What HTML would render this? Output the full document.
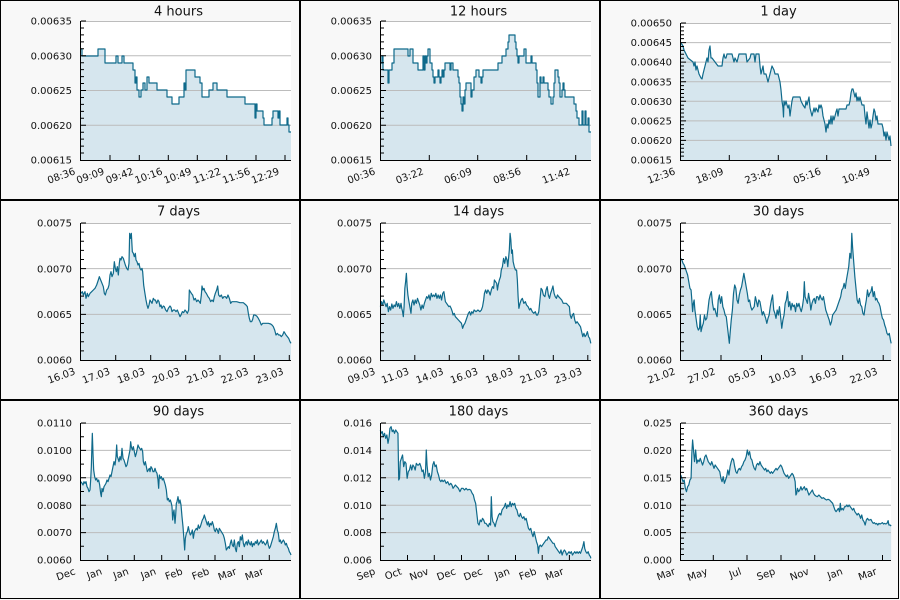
<!DOCTYPE html>
<html>
<head>
<meta charset="utf-8">
<style>
html,body{margin:0;padding:0;background:#f8f8f8;}
svg{display:block;}
text{font-family:"DejaVu Sans","Liberation Sans",sans-serif;fill:#111;}
.t{font-size:13px;text-anchor:middle;}
.y{font-size:10px;text-anchor:end;}
.x{font-size:10px;text-anchor:end;}
.fill{fill:#d6e6ee;stroke:none;}
.ln{fill:none;stroke:#0f6a8b;stroke-width:1.2;stroke-linejoin:round;vector-effect:non-scaling-stroke;}
.grid{stroke:#bcbcbc;stroke-width:1;fill:none;}
.ax{stroke:#000;stroke-width:1;fill:none;}
</style>
</head>
<body>
<svg width="900" height="600" viewBox="0 0 900 600" xmlns="http://www.w3.org/2000/svg">
<defs>
<path id="yt1" class="ax" d="M81,21h5M81,55.75h5M81,90.5h5M81,125.25h5M81,27.95h3M81,34.9h3M81,41.85h3M81,48.8h3M81,62.7h3M81,69.65h3M81,76.6h3M81,83.55h3M81,97.45h3M81,104.4h3M81,111.35h3M81,118.3h3M81,132.2h3M81,139.15h3M81,146.1h3M81,153.05h3"/>
<path id="yt3" class="ax" d="M81,23h5M81,42.57h5M81,62.14h5M81,81.71h5M81,101.29h5M81,120.86h5M81,140.43h5M81,26.91h3M81,30.83h3M81,34.74h3M81,38.66h3M81,46.49h3M81,50.4h3M81,54.31h3M81,58.23h3M81,66.06h3M81,69.97h3M81,73.89h3M81,77.8h3M81,85.63h3M81,89.54h3M81,93.46h3M81,97.37h3M81,105.2h3M81,109.11h3M81,113.03h3M81,116.94h3M81,124.77h3M81,128.69h3M81,132.6h3M81,136.51h3M81,144.34h3M81,148.26h3M81,152.17h3M81,156.09h3"/>
<path id="yt4" class="ax" d="M81,23h5M81,68.67h5M81,114.33h5M81,32.13h3M81,41.27h3M81,50.4h3M81,59.53h3M81,77.8h3M81,86.93h3M81,96.07h3M81,105.2h3M81,123.47h3M81,132.6h3M81,141.73h3M81,150.87h3"/>
<path id="yt7" class="ax" d="M81,23h5M81,50.4h5M81,77.8h5M81,105.2h5M81,132.6h5M81,36.7h3M81,64.1h3M81,91.5h3M81,118.9h3M81,146.3h3"/>
<path id="yt9" class="ax" d="M81,23h5M81,50.4h5M81,77.8h5M81,105.2h5M81,132.6h5M81,28.48h3M81,33.96h3M81,39.44h3M81,44.92h3M81,55.88h3M81,61.36h3M81,66.84h3M81,72.32h3M81,83.28h3M81,88.76h3M81,94.24h3M81,99.72h3M81,110.68h3M81,116.16h3M81,121.64h3M81,127.12h3M81,138.08h3M81,143.56h3M81,149.04h3M81,154.52h3"/>
</defs>

<!-- LAYER 1: backgrounds -->
<g>
<rect x="0.5" y="0.5" width="299" height="199" fill="#f8f8f8" stroke="#000"/>
<rect x="300.5" y="0.5" width="299" height="199" fill="#f8f8f8" stroke="#000"/>
<rect x="600.5" y="0.5" width="298" height="199" fill="#f8f8f8" stroke="#000"/>
<rect x="0.5" y="200.5" width="299" height="199" fill="#f8f8f8" stroke="#000"/>
<rect x="300.5" y="200.5" width="299" height="199" fill="#f8f8f8" stroke="#000"/>
<rect x="600.5" y="200.5" width="298" height="199" fill="#f8f8f8" stroke="#000"/>
<rect x="0.5" y="400.5" width="299" height="198" fill="#f8f8f8" stroke="#000"/>
<rect x="300.5" y="400.5" width="299" height="198" fill="#f8f8f8" stroke="#000"/>
<rect x="600.5" y="400.5" width="298" height="198" fill="#f8f8f8" stroke="#000"/>
<rect x="81" y="21" width="210" height="139" fill="#fff"/>
<rect x="381" y="21" width="210" height="139" fill="#fff"/>
<rect x="681" y="23" width="210" height="137" fill="#fff"/>
<rect x="81" y="223" width="210" height="137" fill="#fff"/>
<rect x="381" y="223" width="210" height="137" fill="#fff"/>
<rect x="681" y="223" width="210" height="137" fill="#fff"/>
<rect x="81" y="423" width="210" height="137" fill="#fff"/>
<rect x="381" y="423" width="210" height="137" fill="#fff"/>
<rect x="681" y="423" width="210" height="137" fill="#fff"/>
</g>

<!-- LAYER 2: fills -->
<g>
<path class="fill" d="M81,49 H82 V56 H98 V49 H105 V63 H116 V56 H118 V63 H122 V56 H124 V63 H133 V70 H135 V83 H136 V77 H137 V90 H139 V97 H141 V90 H143 V83 H145 V90 H147 V77 H149 V83 H157 V90 H167 V97 H172 V104 H179 V97 H184 V83 H185 V90 H186 V70 H195 V77 H200 V83 H202 V97 H209 V90 H213 V83 H217 V90 H227 V97 H245 V104 H255 V118 H256 V104 H257 V111 H263 V118 H264 V125 H272 V118 H273 V111 H278 V118 H279 V111 H280 V125 H287 V118 H288 V125 H289 V132 H291 V160 H81 Z"/>
<path class="fill" transform="translate(300,0)" d="M81,63 H82 V56 H83 V70 H88 V83 H89 V70 H92 V63 H94 V49 H108 V56 H110 V49 H113 V63 H118 V70 H123 V56 H124 V70 H125 V56 H126 V63 H127 V56 H128 V49 H130 V63 H132 V70 H133 V77 H134 V83 H135 V77 H138 V70 H139 V77 H140 V83 H141 V77 H142 V70 H143 V77 H144 V70 H145 V63 H150 V70 H151 V63 H153 V70 H158 V77 H159 V83 H160 V97 H161 V104 H162 V111 H163 V97 H164 V104 H165 V90 H166 V83 H171 V97 H172 V90 H174 V77 H176 V70 H179 V77 H181 V83 H182 V77 H183 V70 H198 V63 H202 V56 H206 V49 H208 V42 H209 V35 H215 V42 H216 V49 H217 V56 H218 V63 H219 V56 H224 V49 H226 V63 H231 V56 H232 V63 H236 V70 H237 V83 H238 V97 H240 V77 H241 V83 H243 V77 H244 V83 H248 V90 H249 V97 H251 V104 H253 V97 H254 V83 H255 V70 H258 V77 H259 V83 H260 V97 H262 V90 H263 V83 H264 V90 H265 V97 H274 V104 H276 V111 H277 V118 H279 V125 H282 V111 H283 V125 H285 V111 H286 V125 H288 V118 H289 V132 H291 V160 H81 Z"/>
<polygon class="fill" transform="translate(600,0)" points="81,43 83,46 84,50 86,54 88,58 93,62 94,66 95,62 96,70 97,66 98,70 99,74 101,78 102,79 103,74 104,70 105,66 106,62 107,58 108,62 109,50 110,46 111,58 112,58 115,62 118,66 122,66 123,58 124,54 125,58 126,58 127,54 132,54 133,58 134,62 135,58 137,62 138,58 139,54 146,54 147,62 150,58 151,54 154,54 155,62 156,54 159,54 160,66 161,74 162,70 163,66 164,74 166,74 168,82 170,74 172,66 174,70 175,74 178,74 179,78 180,82 181,90 182,101 183,108 183.5,117 184,101 185,105 186,101 187,105 188,108 189,105 190,116 191,108 192,101 193,97 200,97 201,101 203,105 205,108 206,101 207,105 209,97 210,108 211,112 212,116 213,112 214,108 215,112 216,108 218,112 219,105 220,108 221,105 222,108 223,116 224,120 225,124 226,132 227,124 228,128 229,120 230,124 231,116 232,124 233,116 234,120 235,116 236,112 237,109 238,116 239,109 246,109 247,105 249,105 250,101 251,93 252,89 253,89 254,93 255,97 256,93 257,101 258,97 259,101 260,97 261,101 262,105 264,105 265,116 266,124 267,112 268,120 269,128 270,120 271,128 272,124 273,116 274,109 275,112 276,120 277,116 278,124 282,124 283,128 284,136 285,132 286,140 287,132 288,136 289,140 290,136 291,146 291,160 81,160"/>
<polygon class="fill" transform="translate(0,200) scale(0.333333)" points="243,280 247,275 250,285 255,275 258,295 262,280 265,290 270,280 275,275 280,270 285,265 290,255 295,240 298,230 302,240 306,250 310,260 313,280 316,285 320,270 324,265 327,255 330,225 333,215 336,230 340,220 343,185 346,205 349,215 352,200 355,225 358,190 360,175 363,180 366,170 370,175 373,185 376,195 380,205 384,210 387,190 389,100 392,115 394,100 397,155 400,160 403,170 406,160 408,180 411,185 414,195 417,190 420,205 423,210 426,205 428,215 431,255 434,275 438,300 441,315 444,325 447,315 450,300 453,305 456,310 460,295 463,300 466,300 470,310 474,300 477,305 480,320 483,315 486,325 490,318 493,320 497,330 501,335 505,325 510,318 513,322 516,335 520,330 524,330 528,335 532,330 536,340 540,350 543,345 547,335 551,338 555,330 559,335 562,340 566,330 568,270 571,275 574,280 578,285 582,300 586,295 590,305 594,300 598,305 601,310 604,285 606,258 609,270 612,265 615,275 619,280 624,290 628,295 632,305 636,300 640,305 643,290 646,280 650,270 653,258 656,285 660,290 664,285 668,295 672,290 676,290 680,295 684,285 688,295 692,310 696,305 700,305 710,305 720,308 730,308 738,315 742,320 745,340 748,355 751,365 755,365 758,358 761,345 765,345 770,348 775,355 780,365 784,375 788,370 795,370 805,370 812,372 816,375 820,380 824,390 828,405 832,400 836,405 840,405 844,410 848,405 852,395 855,400 858,405 862,410 866,415 870,425 873,430 873,480 243,480"/>
<polygon class="fill" transform="translate(300,200) scale(0.38265,0.333333)" points="210,320 213,305 216,315 219,300 222,310 225,320 228,310 231,335 234,320 237,330 240,312 243,325 246,315 249,320 252,305 255,320 258,310 261,325 264,310 266,325 268,335 270,350 272,320 274,265 276,245 278,220 280,260 282,285 284,300 287,320 290,340 292,310 295,300 298,315 301,300 304,310 307,295 310,305 313,315 316,330 319,315 322,325 325,310 328,300 331,290 334,295 337,285 340,300 343,280 346,290 349,285 352,290 355,280 358,295 361,285 364,295 367,285 370,300 373,280 376,275 378,290 380,305 383,310 386,315 389,320 392,318 395,325 398,335 400,345 403,340 406,350 410,355 414,360 418,365 422,370 425,385 428,375 431,370 434,360 437,350 440,340 443,335 446,345 449,335 452,340 455,330 460,335 465,330 470,335 474,330 477,320 480,300 482,280 485,270 488,280 491,270 494,275 497,285 500,270 503,260 506,265 508,240 511,245 514,250 516,270 518,255 521,240 524,230 526,210 529,200 532,175 535,190 538,170 541,180 543,200 545,175 547,150 549,100 551,120 553,160 555,150 557,185 560,200 563,210 566,210 568,240 570,290 572,325 575,310 578,300 581,295 585,310 589,305 592,315 596,320 600,330 603,325 607,335 611,340 615,335 618,345 621,345 624,335 627,300 630,265 633,270 636,285 640,290 643,270 646,260 649,285 652,295 655,280 658,270 661,258 664,280 667,290 670,295 673,285 676,290 680,295 684,300 688,310 692,310 696,310 700,315 704,320 706,345 709,355 712,345 715,340 718,360 721,370 724,365 727,370 730,375 733,380 736,395 739,410 742,400 745,410 748,405 751,395 754,410 757,415 760,430 760,480 210,480"/>
<polygon class="fill" transform="translate(300,200) scale(0.38265,0.333333)" points="995,175 998,180 1001,190 1004,195 1007,205 1010,215 1013,225 1016,245 1019,265 1022,270 1024,300 1026,335 1028,310 1030,300 1032,330 1035,355 1038,380 1041,390 1044,385 1046,345 1048,395 1051,380 1054,370 1057,345 1060,360 1063,355 1066,330 1069,300 1072,285 1075,275 1078,310 1081,330 1084,325 1087,340 1090,350 1093,300 1096,285 1099,310 1102,290 1105,320 1108,330 1111,345 1114,350 1117,380 1120,410 1122,430 1124,400 1127,360 1130,330 1133,280 1136,255 1139,265 1142,300 1145,310 1148,285 1151,270 1154,260 1157,240 1160,220 1163,240 1166,260 1169,280 1172,305 1175,300 1178,320 1181,330 1184,325 1187,320 1190,290 1193,305 1196,320 1199,300 1202,305 1205,325 1208,345 1211,335 1214,345 1217,355 1220,370 1223,355 1226,345 1229,320 1232,300 1235,285 1238,330 1241,340 1244,355 1247,330 1250,345 1253,320 1256,350 1259,385 1262,360 1265,345 1268,310 1271,300 1274,275 1277,320 1280,305 1283,330 1286,310 1289,320 1292,315 1295,335 1298,310 1301,320 1304,310 1307,325 1310,335 1313,320 1316,295 1318,245 1320,290 1323,300 1326,310 1329,280 1332,300 1335,330 1338,310 1341,300 1344,295 1347,310 1350,290 1353,290 1356,300 1359,285 1362,295 1365,300 1368,290 1371,310 1374,330 1377,340 1380,350 1383,360 1386,375 1389,365 1392,345 1395,340 1398,335 1401,330 1404,320 1407,310 1410,300 1413,290 1416,270 1419,265 1422,250 1425,265 1428,240 1431,220 1434,200 1437,160 1440,175 1442,100 1444,140 1447,185 1450,230 1453,265 1456,300 1459,310 1462,295 1465,315 1468,320 1471,340 1474,345 1477,320 1480,300 1483,270 1486,290 1489,280 1492,275 1495,260 1498,290 1501,275 1504,300 1507,295 1510,305 1513,310 1516,320 1519,340 1522,355 1525,360 1528,375 1531,385 1534,400 1537,405 1540,400 1543,420 1545,430 1545,480 995,480"/>
<polygon class="fill" transform="translate(0,400) scale(0.333333)" points="243,245 246,250 249,255 252,245 255,250 258,245 261,260 264,265 267,275 270,270 272,240 274,200 276,130 277,100 279,160 281,210 284,230 287,240 290,235 293,245 296,240 299,255 302,280 304,290 306,265 309,275 312,260 315,255 318,250 321,240 324,245 327,235 330,225 333,230 336,215 339,200 342,185 345,195 348,170 350,135 352,170 354,175 357,185 360,170 363,180 366,145 369,175 372,180 375,190 378,200 381,195 384,180 387,165 390,150 392,125 394,140 397,150 400,140 403,155 406,170 409,160 412,145 414,135 416,140 419,145 422,150 425,145 428,155 430,185 433,195 436,185 439,200 442,215 445,210 448,205 450,215 453,200 456,205 459,215 462,215 465,205 468,215 471,220 474,240 476,265 478,225 481,235 484,230 487,240 490,235 493,245 496,255 499,270 502,300 505,295 508,305 511,300 514,310 516,320 518,360 520,340 522,330 525,370 527,345 529,310 531,305 534,290 537,310 540,300 543,315 546,350 549,380 552,420 554,450 556,415 559,400 562,395 565,380 568,395 571,405 574,400 577,390 580,415 583,395 586,390 589,385 592,390 595,375 598,385 601,380 604,370 607,360 610,355 613,345 616,355 619,365 622,375 625,365 628,380 631,370 634,375 637,365 640,375 643,390 646,395 649,385 652,390 655,400 658,385 661,390 664,395 667,400 670,405 673,415 676,430 679,450 682,445 685,440 688,445 691,430 694,420 697,435 700,440 703,420 706,445 709,455 712,430 715,425 718,440 721,410 724,420 727,405 730,430 733,440 736,430 739,425 742,435 745,420 748,430 751,435 754,425 757,440 760,430 763,435 766,425 769,430 772,420 775,435 778,430 781,425 784,420 787,430 790,425 793,430 796,435 799,430 802,420 805,435 808,445 811,440 814,430 817,420 820,410 823,395 826,385 829,370 832,390 835,400 838,425 841,420 844,430 847,425 850,420 853,425 856,435 859,430 862,440 865,445 868,455 871,460 873,465 873,480 243,480"/>
<polygon class="fill" transform="translate(300,400) scale(0.38265,0.333333)" points="210,90 212,100 215,95 218,110 221,100 224,115 227,105 230,130 233,110 235,85 238,80 241,95 244,90 247,100 250,90 253,95 256,100 258,240 260,235 262,185 265,175 268,165 271,200 274,185 277,190 280,235 283,215 286,210 289,195 292,210 295,195 298,200 301,210 304,190 307,195 310,195 313,190 316,200 319,215 322,210 325,235 328,215 330,150 332,195 335,230 338,220 341,240 344,225 347,195 350,185 353,200 356,195 359,215 362,225 365,240 368,245 371,240 374,245 378,240 382,250 386,245 390,255 394,250 397,255 400,265 403,260 406,255 410,260 414,265 418,275 422,265 426,265 430,270 434,265 438,270 442,268 446,270 450,280 453,285 456,300 459,310 462,340 465,370 468,375 471,360 474,365 477,355 480,360 483,370 486,370 489,375 492,380 495,370 498,375 500,290 502,350 504,365 507,370 510,380 513,365 516,355 519,345 522,340 525,345 528,330 531,325 534,320 537,310 540,325 543,315 546,320 549,305 552,320 555,310 558,315 561,310 564,325 567,330 570,345 573,350 576,340 579,350 582,355 585,350 588,360 591,355 594,370 597,385 600,390 603,385 606,400 609,410 612,395 615,410 618,425 621,435 623,460 625,440 628,435 631,440 634,435 637,430 640,425 643,420 646,420 649,410 652,415 655,420 658,425 661,430 664,430 667,440 670,445 673,450 676,455 679,460 682,450 685,465 688,455 691,450 694,455 697,465 700,460 703,455 706,460 709,455 712,465 715,460 718,455 721,460 724,455 727,460 730,455 733,460 736,450 739,440 742,425 744,445 747,455 750,460 753,455 756,465 759,470 760,475 760,480 210,480"/>
<polygon class="fill" transform="translate(300,400) scale(0.38265,0.333333)" points="995,225 998,235 1001,245 1004,240 1007,265 1010,275 1013,260 1016,255 1019,240 1022,235 1024,160 1026,120 1028,145 1031,185 1034,150 1037,190 1040,180 1043,185 1046,175 1049,185 1052,195 1055,185 1058,170 1061,165 1064,175 1067,185 1070,190 1073,195 1076,185 1079,195 1082,205 1085,195 1088,200 1091,205 1094,210 1097,215 1100,235 1103,245 1106,230 1109,250 1112,240 1115,230 1118,210 1121,225 1124,200 1127,185 1130,175 1133,180 1136,200 1139,215 1142,220 1145,210 1148,205 1151,210 1154,200 1157,195 1160,185 1163,180 1166,170 1169,150 1172,165 1175,155 1178,175 1181,180 1184,195 1187,205 1190,210 1193,195 1196,190 1199,195 1202,185 1205,195 1208,200 1211,205 1214,210 1217,205 1220,215 1223,210 1226,215 1229,220 1232,215 1235,220 1238,215 1241,210 1244,205 1247,210 1250,205 1253,200 1256,195 1259,200 1262,210 1265,220 1268,225 1271,230 1274,225 1277,235 1280,230 1283,225 1286,220 1289,225 1292,235 1294,245 1296,285 1298,280 1300,265 1303,275 1306,270 1309,260 1312,270 1315,265 1318,260 1321,270 1324,265 1327,275 1330,285 1333,280 1336,275 1339,270 1342,280 1345,285 1348,288 1352,290 1356,285 1360,290 1364,295 1368,293 1372,297 1376,300 1380,298 1384,300 1388,305 1392,310 1395,320 1398,330 1401,335 1404,330 1407,325 1410,335 1412,310 1414,330 1417,325 1420,330 1423,320 1426,320 1429,315 1432,320 1435,315 1438,320 1441,325 1444,330 1447,325 1450,335 1453,340 1456,345 1459,340 1462,345 1465,355 1468,345 1471,360 1474,365 1477,375 1480,360 1483,355 1486,360 1489,360 1492,358 1495,365 1498,370 1501,368 1504,372 1507,370 1510,375 1513,370 1516,372 1519,370 1522,368 1525,372 1528,370 1531,372 1534,370 1537,362 1539,375 1542,375 1545,378 1545,480 995,480"/>
</g>

<!-- LAYER 3: grids -->
<path class="grid" d="M81,21.5H291M81,55.75H291M81,90.5H291M81,125.25H291
M381,21.5H591M381,55.75H591M381,90.5H591M381,125.25H591
M681,23.5H891M681,42.57H891M681,62.14H891M681,81.71H891M681,101.29H891M681,120.86H891M681,140.43H891
M81,223.5H291M81,268.67H291M81,314.33H291
M381,223.5H591M381,268.67H591M381,314.33H591
M681,223.5H891M681,268.67H891M681,314.33H891
M81,423.5H291M81,450.4H291M81,477.8H291M81,505.2H291M81,532.6H291
M381,423.5H591M381,450.4H591M381,477.8H591M381,505.2H591M381,532.6H591
M681,423.5H891M681,450.4H891M681,477.8H891M681,505.2H891M681,532.6H891"/>

<!-- LAYER 4: lines -->
<g>
<path class="ln" d="M81,49 H82 V56 H98 V49 H105 V63 H116 V56 H118 V63 H122 V56 H124 V63 H133 V70 H135 V83 H136 V77 H137 V90 H139 V97 H141 V90 H143 V83 H145 V90 H147 V77 H149 V83 H157 V90 H167 V97 H172 V104 H179 V97 H184 V83 H185 V90 H186 V70 H195 V77 H200 V83 H202 V97 H209 V90 H213 V83 H217 V90 H227 V97 H245 V104 H255 V118 H256 V104 H257 V111 H263 V118 H264 V125 H272 V118 H273 V111 H278 V118 H279 V111 H280 V125 H287 V118 H288 V125 H289 V132 H291"/>
<path class="ln" transform="translate(300,0)" d="M81,63 H82 V56 H83 V70 H88 V83 H89 V70 H92 V63 H94 V49 H108 V56 H110 V49 H113 V63 H118 V70 H123 V56 H124 V70 H125 V56 H126 V63 H127 V56 H128 V49 H130 V63 H132 V70 H133 V77 H134 V83 H135 V77 H138 V70 H139 V77 H140 V83 H141 V77 H142 V70 H143 V77 H144 V70 H145 V63 H150 V70 H151 V63 H153 V70 H158 V77 H159 V83 H160 V97 H161 V104 H162 V111 H163 V97 H164 V104 H165 V90 H166 V83 H171 V97 H172 V90 H174 V77 H176 V70 H179 V77 H181 V83 H182 V77 H183 V70 H198 V63 H202 V56 H206 V49 H208 V42 H209 V35 H215 V42 H216 V49 H217 V56 H218 V63 H219 V56 H224 V49 H226 V63 H231 V56 H232 V63 H236 V70 H237 V83 H238 V97 H240 V77 H241 V83 H243 V77 H244 V83 H248 V90 H249 V97 H251 V104 H253 V97 H254 V83 H255 V70 H258 V77 H259 V83 H260 V97 H262 V90 H263 V83 H264 V90 H265 V97 H274 V104 H276 V111 H277 V118 H279 V125 H282 V111 H283 V125 H285 V111 H286 V125 H288 V118 H289 V132 H291"/>
<polyline class="ln" transform="translate(600,0)" points="81,43 83,46 84,50 86,54 88,58 93,62 94,66 95,62 96,70 97,66 98,70 99,74 101,78 102,79 103,74 104,70 105,66 106,62 107,58 108,62 109,50 110,46 111,58 112,58 115,62 118,66 122,66 123,58 124,54 125,58 126,58 127,54 132,54 133,58 134,62 135,58 137,62 138,58 139,54 146,54 147,62 150,58 151,54 154,54 155,62 156,54 159,54 160,66 161,74 162,70 163,66 164,74 166,74 168,82 170,74 172,66 174,70 175,74 178,74 179,78 180,82 181,90 182,101 183,108 183.5,117 184,101 185,105 186,101 187,105 188,108 189,105 190,116 191,108 192,101 193,97 200,97 201,101 203,105 205,108 206,101 207,105 209,97 210,108 211,112 212,116 213,112 214,108 215,112 216,108 218,112 219,105 220,108 221,105 222,108 223,116 224,120 225,124 226,132 227,124 228,128 229,120 230,124 231,116 232,124 233,116 234,120 235,116 236,112 237,109 238,116 239,109 246,109 247,105 249,105 250,101 251,93 252,89 253,89 254,93 255,97 256,93 257,101 258,97 259,101 260,97 261,101 262,105 264,105 265,116 266,124 267,112 268,120 269,128 270,120 271,128 272,124 273,116 274,109 275,112 276,120 277,116 278,124 282,124 283,128 284,136 285,132 286,140 287,132 288,136 289,140 290,136 291,146"/>
<polyline class="ln" transform="translate(0,200) scale(0.333333)" points="243,280 247,275 250,285 255,275 258,295 262,280 265,290 270,280 275,275 280,270 285,265 290,255 295,240 298,230 302,240 306,250 310,260 313,280 316,285 320,270 324,265 327,255 330,225 333,215 336,230 340,220 343,185 346,205 349,215 352,200 355,225 358,190 360,175 363,180 366,170 370,175 373,185 376,195 380,205 384,210 387,190 389,100 392,115 394,100 397,155 400,160 403,170 406,160 408,180 411,185 414,195 417,190 420,205 423,210 426,205 428,215 431,255 434,275 438,300 441,315 444,325 447,315 450,300 453,305 456,310 460,295 463,300 466,300 470,310 474,300 477,305 480,320 483,315 486,325 490,318 493,320 497,330 501,335 505,325 510,318 513,322 516,335 520,330 524,330 528,335 532,330 536,340 540,350 543,345 547,335 551,338 555,330 559,335 562,340 566,330 568,270 571,275 574,280 578,285 582,300 586,295 590,305 594,300 598,305 601,310 604,285 606,258 609,270 612,265 615,275 619,280 624,290 628,295 632,305 636,300 640,305 643,290 646,280 650,270 653,258 656,285 660,290 664,285 668,295 672,290 676,290 680,295 684,285 688,295 692,310 696,305 700,305 710,305 720,308 730,308 738,315 742,320 745,340 748,355 751,365 755,365 758,358 761,345 765,345 770,348 775,355 780,365 784,375 788,370 795,370 805,370 812,372 816,375 820,380 824,390 828,405 832,400 836,405 840,405 844,410 848,405 852,395 855,400 858,405 862,410 866,415 870,425 873,430"/>
<polyline class="ln" transform="translate(300,200) scale(0.38265,0.333333)" points="210,320 213,305 216,315 219,300 222,310 225,320 228,310 231,335 234,320 237,330 240,312 243,325 246,315 249,320 252,305 255,320 258,310 261,325 264,310 266,325 268,335 270,350 272,320 274,265 276,245 278,220 280,260 282,285 284,300 287,320 290,340 292,310 295,300 298,315 301,300 304,310 307,295 310,305 313,315 316,330 319,315 322,325 325,310 328,300 331,290 334,295 337,285 340,300 343,280 346,290 349,285 352,290 355,280 358,295 361,285 364,295 367,285 370,300 373,280 376,275 378,290 380,305 383,310 386,315 389,320 392,318 395,325 398,335 400,345 403,340 406,350 410,355 414,360 418,365 422,370 425,385 428,375 431,370 434,360 437,350 440,340 443,335 446,345 449,335 452,340 455,330 460,335 465,330 470,335 474,330 477,320 480,300 482,280 485,270 488,280 491,270 494,275 497,285 500,270 503,260 506,265 508,240 511,245 514,250 516,270 518,255 521,240 524,230 526,210 529,200 532,175 535,190 538,170 541,180 543,200 545,175 547,150 549,100 551,120 553,160 555,150 557,185 560,200 563,210 566,210 568,240 570,290 572,325 575,310 578,300 581,295 585,310 589,305 592,315 596,320 600,330 603,325 607,335 611,340 615,335 618,345 621,345 624,335 627,300 630,265 633,270 636,285 640,290 643,270 646,260 649,285 652,295 655,280 658,270 661,258 664,280 667,290 670,295 673,285 676,290 680,295 684,300 688,310 692,310 696,310 700,315 704,320 706,345 709,355 712,345 715,340 718,360 721,370 724,365 727,370 730,375 733,380 736,395 739,410 742,400 745,410 748,405 751,395 754,410 757,415 760,430"/>
<polyline class="ln" transform="translate(300,200) scale(0.38265,0.333333)" points="995,175 998,180 1001,190 1004,195 1007,205 1010,215 1013,225 1016,245 1019,265 1022,270 1024,300 1026,335 1028,310 1030,300 1032,330 1035,355 1038,380 1041,390 1044,385 1046,345 1048,395 1051,380 1054,370 1057,345 1060,360 1063,355 1066,330 1069,300 1072,285 1075,275 1078,310 1081,330 1084,325 1087,340 1090,350 1093,300 1096,285 1099,310 1102,290 1105,320 1108,330 1111,345 1114,350 1117,380 1120,410 1122,430 1124,400 1127,360 1130,330 1133,280 1136,255 1139,265 1142,300 1145,310 1148,285 1151,270 1154,260 1157,240 1160,220 1163,240 1166,260 1169,280 1172,305 1175,300 1178,320 1181,330 1184,325 1187,320 1190,290 1193,305 1196,320 1199,300 1202,305 1205,325 1208,345 1211,335 1214,345 1217,355 1220,370 1223,355 1226,345 1229,320 1232,300 1235,285 1238,330 1241,340 1244,355 1247,330 1250,345 1253,320 1256,350 1259,385 1262,360 1265,345 1268,310 1271,300 1274,275 1277,320 1280,305 1283,330 1286,310 1289,320 1292,315 1295,335 1298,310 1301,320 1304,310 1307,325 1310,335 1313,320 1316,295 1318,245 1320,290 1323,300 1326,310 1329,280 1332,300 1335,330 1338,310 1341,300 1344,295 1347,310 1350,290 1353,290 1356,300 1359,285 1362,295 1365,300 1368,290 1371,310 1374,330 1377,340 1380,350 1383,360 1386,375 1389,365 1392,345 1395,340 1398,335 1401,330 1404,320 1407,310 1410,300 1413,290 1416,270 1419,265 1422,250 1425,265 1428,240 1431,220 1434,200 1437,160 1440,175 1442,100 1444,140 1447,185 1450,230 1453,265 1456,300 1459,310 1462,295 1465,315 1468,320 1471,340 1474,345 1477,320 1480,300 1483,270 1486,290 1489,280 1492,275 1495,260 1498,290 1501,275 1504,300 1507,295 1510,305 1513,310 1516,320 1519,340 1522,355 1525,360 1528,375 1531,385 1534,400 1537,405 1540,400 1543,420 1545,430"/>
<polyline class="ln" transform="translate(0,400) scale(0.333333)" points="243,245 246,250 249,255 252,245 255,250 258,245 261,260 264,265 267,275 270,270 272,240 274,200 276,130 277,100 279,160 281,210 284,230 287,240 290,235 293,245 296,240 299,255 302,280 304,290 306,265 309,275 312,260 315,255 318,250 321,240 324,245 327,235 330,225 333,230 336,215 339,200 342,185 345,195 348,170 350,135 352,170 354,175 357,185 360,170 363,180 366,145 369,175 372,180 375,190 378,200 381,195 384,180 387,165 390,150 392,125 394,140 397,150 400,140 403,155 406,170 409,160 412,145 414,135 416,140 419,145 422,150 425,145 428,155 430,185 433,195 436,185 439,200 442,215 445,210 448,205 450,215 453,200 456,205 459,215 462,215 465,205 468,215 471,220 474,240 476,265 478,225 481,235 484,230 487,240 490,235 493,245 496,255 499,270 502,300 505,295 508,305 511,300 514,310 516,320 518,360 520,340 522,330 525,370 527,345 529,310 531,305 534,290 537,310 540,300 543,315 546,350 549,380 552,420 554,450 556,415 559,400 562,395 565,380 568,395 571,405 574,400 577,390 580,415 583,395 586,390 589,385 592,390 595,375 598,385 601,380 604,370 607,360 610,355 613,345 616,355 619,365 622,375 625,365 628,380 631,370 634,375 637,365 640,375 643,390 646,395 649,385 652,390 655,400 658,385 661,390 664,395 667,400 670,405 673,415 676,430 679,450 682,445 685,440 688,445 691,430 694,420 697,435 700,440 703,420 706,445 709,455 712,430 715,425 718,440 721,410 724,420 727,405 730,430 733,440 736,430 739,425 742,435 745,420 748,430 751,435 754,425 757,440 760,430 763,435 766,425 769,430 772,420 775,435 778,430 781,425 784,420 787,430 790,425 793,430 796,435 799,430 802,420 805,435 808,445 811,440 814,430 817,420 820,410 823,395 826,385 829,370 832,390 835,400 838,425 841,420 844,430 847,425 850,420 853,425 856,435 859,430 862,440 865,445 868,455 871,460 873,465"/>
<polyline class="ln" transform="translate(300,400) scale(0.38265,0.333333)" points="210,90 212,100 215,95 218,110 221,100 224,115 227,105 230,130 233,110 235,85 238,80 241,95 244,90 247,100 250,90 253,95 256,100 258,240 260,235 262,185 265,175 268,165 271,200 274,185 277,190 280,235 283,215 286,210 289,195 292,210 295,195 298,200 301,210 304,190 307,195 310,195 313,190 316,200 319,215 322,210 325,235 328,215 330,150 332,195 335,230 338,220 341,240 344,225 347,195 350,185 353,200 356,195 359,215 362,225 365,240 368,245 371,240 374,245 378,240 382,250 386,245 390,255 394,250 397,255 400,265 403,260 406,255 410,260 414,265 418,275 422,265 426,265 430,270 434,265 438,270 442,268 446,270 450,280 453,285 456,300 459,310 462,340 465,370 468,375 471,360 474,365 477,355 480,360 483,370 486,370 489,375 492,380 495,370 498,375 500,290 502,350 504,365 507,370 510,380 513,365 516,355 519,345 522,340 525,345 528,330 531,325 534,320 537,310 540,325 543,315 546,320 549,305 552,320 555,310 558,315 561,310 564,325 567,330 570,345 573,350 576,340 579,350 582,355 585,350 588,360 591,355 594,370 597,385 600,390 603,385 606,400 609,410 612,395 615,410 618,425 621,435 623,460 625,440 628,435 631,440 634,435 637,430 640,425 643,420 646,420 649,410 652,415 655,420 658,425 661,430 664,430 667,440 670,445 673,450 676,455 679,460 682,450 685,465 688,455 691,450 694,455 697,465 700,460 703,455 706,460 709,455 712,465 715,460 718,455 721,460 724,455 727,460 730,455 733,460 736,450 739,440 742,425 744,445 747,455 750,460 753,455 756,465 759,470 760,475"/>
<polyline class="ln" transform="translate(300,400) scale(0.38265,0.333333)" points="995,225 998,235 1001,245 1004,240 1007,265 1010,275 1013,260 1016,255 1019,240 1022,235 1024,160 1026,120 1028,145 1031,185 1034,150 1037,190 1040,180 1043,185 1046,175 1049,185 1052,195 1055,185 1058,170 1061,165 1064,175 1067,185 1070,190 1073,195 1076,185 1079,195 1082,205 1085,195 1088,200 1091,205 1094,210 1097,215 1100,235 1103,245 1106,230 1109,250 1112,240 1115,230 1118,210 1121,225 1124,200 1127,185 1130,175 1133,180 1136,200 1139,215 1142,220 1145,210 1148,205 1151,210 1154,200 1157,195 1160,185 1163,180 1166,170 1169,150 1172,165 1175,155 1178,175 1181,180 1184,195 1187,205 1190,210 1193,195 1196,190 1199,195 1202,185 1205,195 1208,200 1211,205 1214,210 1217,205 1220,215 1223,210 1226,215 1229,220 1232,215 1235,220 1238,215 1241,210 1244,205 1247,210 1250,205 1253,200 1256,195 1259,200 1262,210 1265,220 1268,225 1271,230 1274,225 1277,235 1280,230 1283,225 1286,220 1289,225 1292,235 1294,245 1296,285 1298,280 1300,265 1303,275 1306,270 1309,260 1312,270 1315,265 1318,260 1321,270 1324,265 1327,275 1330,285 1333,280 1336,275 1339,270 1342,280 1345,285 1348,288 1352,290 1356,285 1360,290 1364,295 1368,293 1372,297 1376,300 1380,298 1384,300 1388,305 1392,310 1395,320 1398,330 1401,335 1404,330 1407,325 1410,335 1412,310 1414,330 1417,325 1420,330 1423,320 1426,320 1429,315 1432,320 1435,315 1438,320 1441,325 1444,330 1447,325 1450,335 1453,340 1456,345 1459,340 1462,345 1465,355 1468,345 1471,360 1474,365 1477,375 1480,360 1483,355 1486,360 1489,360 1492,358 1495,365 1498,370 1501,368 1504,372 1507,370 1510,375 1513,370 1516,372 1519,370 1522,368 1525,372 1528,370 1531,372 1534,370 1537,362 1539,375 1542,375 1545,378"/>
</g>

<!-- LAYER 5: axes, ticks, labels -->
<!-- Panel 1: 4 hours -->
<g>
<path class="ax" d="M80.5,21V160.5M80,160.5H291M110,160v-5M139.3,160v-5M168.3,160v-5M197.3,160v-5M226.7,160v-5M256,160v-5M285,160v-5"/>
<use href="#yt1"/>
<text class="t" x="178.5" y="15.5">4 hours</text>
<text class="y" x="72" y="24.6">0.00635</text>
<text class="y" x="72" y="59.4">0.00630</text>
<text class="y" x="72" y="94.1">0.00625</text>
<text class="y" x="72" y="128.9">0.00620</text>
<text class="y" x="72" y="163.6">0.00615</text>
<text class="x" x="76" y="174" transform="rotate(-20 76 174)">08:36</text>
<text class="x" x="105" y="174" transform="rotate(-20 105 174)">09:09</text>
<text class="x" x="134.3" y="174" transform="rotate(-20 134.3 174)">09:42</text>
<text class="x" x="163.3" y="174" transform="rotate(-20 163.3 174)">10:16</text>
<text class="x" x="192.3" y="174" transform="rotate(-20 192.3 174)">10:49</text>
<text class="x" x="221.7" y="174" transform="rotate(-20 221.7 174)">11:22</text>
<text class="x" x="251" y="174" transform="rotate(-20 251 174)">11:56</text>
<text class="x" x="280" y="174" transform="rotate(-20 280 174)">12:29</text>
</g>
<!-- Panel 2: 12 hours -->
<g transform="translate(300,0)">
<path class="ax" d="M80.5,21V160.5M80,160.5H291M129.3,160v-5M177.7,160v-5M226.7,160v-5M275.7,160v-5"/>
<use href="#yt1"/>
<text class="t" x="178.5" y="15.5">12 hours</text>
<text class="y" x="72" y="24.6">0.00635</text>
<text class="y" x="72" y="59.4">0.00630</text>
<text class="y" x="72" y="94.1">0.00625</text>
<text class="y" x="72" y="128.9">0.00620</text>
<text class="y" x="72" y="163.6">0.00615</text>
<text class="x" x="76" y="174" transform="rotate(-20 76 174)">00:36</text>
<text class="x" x="124.3" y="174" transform="rotate(-20 124.3 174)">03:22</text>
<text class="x" x="172.7" y="174" transform="rotate(-20 172.7 174)">06:09</text>
<text class="x" x="221.7" y="174" transform="rotate(-20 221.7 174)">08:56</text>
<text class="x" x="270.7" y="174" transform="rotate(-20 270.7 174)">11:42</text>
</g>
<!-- Panel 3: 1 day -->
<g transform="translate(600,0)">
<path class="ax" d="M80.5,23V160.5M80,160.5H291M129.3,160v-5M178.3,160v-5M226.7,160v-5M275.7,160v-5"/>
<use href="#yt3"/>
<text class="t" x="178.5" y="15.5">1 day</text>
<text class="y" x="72" y="26.6">0.00650</text>
<text class="y" x="72" y="46.2">0.00645</text>
<text class="y" x="72" y="65.7">0.00640</text>
<text class="y" x="72" y="85.3">0.00635</text>
<text class="y" x="72" y="104.9">0.00630</text>
<text class="y" x="72" y="124.5">0.00625</text>
<text class="y" x="72" y="144">0.00620</text>
<text class="y" x="72" y="163.6">0.00615</text>
<text class="x" x="76" y="174" transform="rotate(-20 76 174)">12:36</text>
<text class="x" x="124.3" y="174" transform="rotate(-20 124.3 174)">18:09</text>
<text class="x" x="173.3" y="174" transform="rotate(-20 173.3 174)">23:42</text>
<text class="x" x="221.7" y="174" transform="rotate(-20 221.7 174)">05:16</text>
<text class="x" x="270.7" y="174" transform="rotate(-20 270.7 174)">10:49</text>
</g>
<!-- Panel 4: 7 days -->
<g transform="translate(0,200)">
<path class="ax" d="M80.5,23V160.5M80,160.5H291M115.7,160v-5M150.7,160v-5M185.7,160v-5M220,160v-5M254.3,160v-5M289.3,160v-5"/>
<use href="#yt4"/>
<text class="t" x="178.5" y="15.5">7 days</text>
<text class="y" x="72" y="26.6">0.0075</text>
<text class="y" x="72" y="72.3">0.0070</text>
<text class="y" x="72" y="117.9">0.0065</text>
<text class="y" x="72" y="163.6">0.0060</text>
<text class="x" x="76" y="174" transform="rotate(-20 76 174)">16.03</text>
<text class="x" x="110.7" y="174" transform="rotate(-20 110.7 174)">17.03</text>
<text class="x" x="145.7" y="174" transform="rotate(-20 145.7 174)">18.03</text>
<text class="x" x="180.7" y="174" transform="rotate(-20 180.7 174)">20.03</text>
<text class="x" x="215" y="174" transform="rotate(-20 215 174)">21.03</text>
<text class="x" x="249.3" y="174" transform="rotate(-20 249.3 174)">22.03</text>
<text class="x" x="284.3" y="174" transform="rotate(-20 284.3 174)">23.03</text>
</g>
<!-- Panel 5: 14 days -->
<g transform="translate(300,200)">
<path class="ax" d="M80.5,23V160.5M80,160.5H291M114.8,160v-5M149.3,160v-5M183.7,160v-5M218.9,160v-5M253.3,160v-5M287.8,160v-5"/>
<use href="#yt4"/>
<text class="t" x="178.5" y="15.5">14 days</text>
<text class="y" x="72" y="26.6">0.0075</text>
<text class="y" x="72" y="72.3">0.0070</text>
<text class="y" x="72" y="117.9">0.0065</text>
<text class="y" x="72" y="163.6">0.0060</text>
<text class="x" x="76" y="174" transform="rotate(-20 76 174)">09.03</text>
<text class="x" x="109.8" y="174" transform="rotate(-20 109.8 174)">11.03</text>
<text class="x" x="144.3" y="174" transform="rotate(-20 144.3 174)">14.03</text>
<text class="x" x="178.7" y="174" transform="rotate(-20 178.7 174)">16.03</text>
<text class="x" x="213.9" y="174" transform="rotate(-20 213.9 174)">18.03</text>
<text class="x" x="248.3" y="174" transform="rotate(-20 248.3 174)">21.03</text>
<text class="x" x="282.8" y="174" transform="rotate(-20 282.8 174)">23.03</text>
</g>
<!-- Panel 6: 30 days -->
<g transform="translate(600,200)">
<path class="ax" d="M80.5,23V160.5M80,160.5H291M121,160v-5M161.5,160v-5M202.1,160v-5M242.7,160v-5M283.2,160v-5"/>
<use href="#yt4"/>
<text class="t" x="178.5" y="15.5">30 days</text>
<text class="y" x="72" y="26.6">0.0075</text>
<text class="y" x="72" y="72.3">0.0070</text>
<text class="y" x="72" y="117.9">0.0065</text>
<text class="y" x="72" y="163.6">0.0060</text>
<text class="x" x="76" y="174" transform="rotate(-20 76 174)">21.02</text>
<text class="x" x="116" y="174" transform="rotate(-20 116 174)">27.02</text>
<text class="x" x="156.5" y="174" transform="rotate(-20 156.5 174)">05.03</text>
<text class="x" x="197.1" y="174" transform="rotate(-20 197.1 174)">10.03</text>
<text class="x" x="237.7" y="174" transform="rotate(-20 237.7 174)">16.03</text>
<text class="x" x="278.2" y="174" transform="rotate(-20 278.2 174)">22.03</text>
</g>
<!-- Panel 7: 90 days -->
<g transform="translate(0,400)">
<path class="ax" d="M80.5,23V160.5M80,160.5H291M107.7,160v-5M134.3,160v-5M161.7,160v-5M188.3,160v-5M215,160v-5M242.3,160v-5M269.3,160v-5"/>
<use href="#yt7"/>
<text class="t" x="178.5" y="15.5">90 days</text>
<text class="y" x="72" y="26.6">0.0110</text>
<text class="y" x="72" y="54">0.0100</text>
<text class="y" x="72" y="81.4">0.0090</text>
<text class="y" x="72" y="108.8">0.0080</text>
<text class="y" x="72" y="136.2">0.0070</text>
<text class="y" x="72" y="163.6">0.0060</text>
<text class="x" x="76" y="174" transform="rotate(-20 76 174)">Dec</text>
<text class="x" x="102.7" y="174" transform="rotate(-20 102.7 174)">Jan</text>
<text class="x" x="129.3" y="174" transform="rotate(-20 129.3 174)">Jan</text>
<text class="x" x="156.7" y="174" transform="rotate(-20 156.7 174)">Jan</text>
<text class="x" x="183.3" y="174" transform="rotate(-20 183.3 174)">Feb</text>
<text class="x" x="210" y="174" transform="rotate(-20 210 174)">Feb</text>
<text class="x" x="237.3" y="174" transform="rotate(-20 237.3 174)">Mar</text>
<text class="x" x="264.3" y="174" transform="rotate(-20 264.3 174)">Mar</text>
</g>
<!-- Panel 8: 180 days -->
<g transform="translate(300,400)">
<path class="ax" d="M80.5,23V160.5M80,160.5H291M107.5,160v-5M134.3,160v-5M161.5,160v-5M188.3,160v-5M215.5,160v-5M242.2,160v-5M269.4,160v-5"/>
<use href="#yt7"/>
<text class="t" x="178.5" y="15.5">180 days</text>
<text class="y" x="72" y="26.6">0.016</text>
<text class="y" x="72" y="54">0.014</text>
<text class="y" x="72" y="81.4">0.012</text>
<text class="y" x="72" y="108.8">0.010</text>
<text class="y" x="72" y="136.2">0.008</text>
<text class="y" x="72" y="163.6">0.006</text>
<text class="x" x="76" y="174" transform="rotate(-20 76 174)">Sep</text>
<text class="x" x="102.5" y="174" transform="rotate(-20 102.5 174)">Oct</text>
<text class="x" x="129.3" y="174" transform="rotate(-20 129.3 174)">Nov</text>
<text class="x" x="156.5" y="174" transform="rotate(-20 156.5 174)">Dec</text>
<text class="x" x="183.3" y="174" transform="rotate(-20 183.3 174)">Dec</text>
<text class="x" x="210.5" y="174" transform="rotate(-20 210.5 174)">Jan</text>
<text class="x" x="237.2" y="174" transform="rotate(-20 237.2 174)">Feb</text>
<text class="x" x="264.4" y="174" transform="rotate(-20 264.4 174)">Mar</text>
</g>
<!-- Panel 9: 360 days -->
<g transform="translate(600,400)">
<path class="ax" d="M80.5,23V160.5M80,160.5H291M113.3,160v-5M147,160v-5M181,160v-5M214.7,160v-5M248.4,160v-5M282.5,160v-5"/>
<use href="#yt9"/>
<text class="t" x="178.5" y="15.5">360 days</text>
<text class="y" x="72" y="26.6">0.025</text>
<text class="y" x="72" y="54">0.020</text>
<text class="y" x="72" y="81.4">0.015</text>
<text class="y" x="72" y="108.8">0.010</text>
<text class="y" x="72" y="136.2">0.005</text>
<text class="y" x="72" y="163.6">0.000</text>
<text class="x" x="76" y="174" transform="rotate(-20 76 174)">Mar</text>
<text class="x" x="108.3" y="174" transform="rotate(-20 108.3 174)">May</text>
<text class="x" x="142" y="174" transform="rotate(-20 142 174)">Jul</text>
<text class="x" x="176" y="174" transform="rotate(-20 176 174)">Sep</text>
<text class="x" x="209.7" y="174" transform="rotate(-20 209.7 174)">Nov</text>
<text class="x" x="243.4" y="174" transform="rotate(-20 243.4 174)">Jan</text>
<text class="x" x="277.5" y="174" transform="rotate(-20 277.5 174)">Mar</text>
</g>
</svg>
</body>
</html>
